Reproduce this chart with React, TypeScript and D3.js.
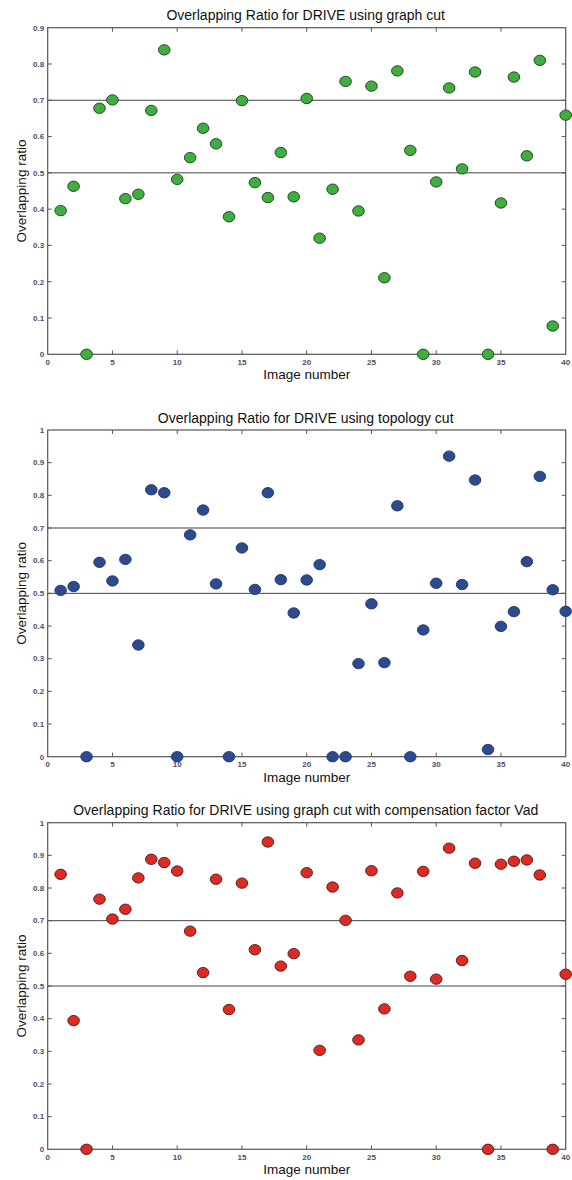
import React from "react";
import * as d3 from "d3";

const imageNumbers: number[] = Array.from({ length: 40 }, (_, i) => i + 1);

const graphCut: number[] = [
  0.396, 0.463, 0, 0.678, 0.701, 0.429, 0.441, 0.672, 0.839, 0.482,
  0.542, 0.623, 0.58, 0.379, 0.699, 0.473, 0.432, 0.556, 0.434, 0.705,
  0.32, 0.455, 0.752, 0.395, 0.739, 0.211, 0.781, 0.562, 0, 0.475,
  0.734, 0.511, 0.778, 0, 0.417, 0.764, 0.547, 0.81, 0.078, 0.659,
];

const topologyCut: number[] = [
  0.509, 0.521, 0, 0.595, 0.538, 0.604, 0.342, 0.817, 0.808, 0,
  0.679, 0.755, 0.529, 0, 0.639, 0.512, 0.808, 0.542, 0.44, 0.541,
  0.588, 0, 0, 0.285, 0.468, 0.288, 0.768, 0, 0.388, 0.531,
  0.92, 0.527, 0.847, 0.022, 0.399, 0.444, 0.597, 0.858, 0.511, 0.445,
];

const graphCutVad: number[] = [
  0.842, 0.394, 0, 0.766, 0.705, 0.735, 0.831, 0.888, 0.878, 0.852,
  0.668, 0.541, 0.827, 0.428, 0.815, 0.611, 0.941, 0.561, 0.599, 0.847,
  0.303, 0.803, 0.701, 0.335, 0.853, 0.43, 0.785, 0.53, 0.851, 0.521,
  0.922, 0.578, 0.876, 0, 0.873, 0.882, 0.886, 0.84, 0, 0.536,
];

const xTicks: number[] = [0, 5, 10, 15, 20, 25, 30, 35, 40];
const yTicks09: number[] = [0, 0.1, 0.2, 0.3, 0.4, 0.5, 0.6, 0.7, 0.8, 0.9];
const yTicks10: number[] = [0, 0.1, 0.2, 0.3, 0.4, 0.5, 0.6, 0.7, 0.8, 0.9, 1];
const refLines: number[] = [0.5, 0.7];

const titles: string[] = [
  "Overlapping Ratio for DRIVE using graph cut",
  "Overlapping Ratio for DRIVE using topology cut",
  "Overlapping Ratio for DRIVE using graph cut with compensation factor Vad",
];

const FONT = "'Liberation Sans', Arial, sans-serif";
const LEFT = 47.7;
const RIGHT = 565.7;

type PanelProps = {
  title: string;
  values: number[];
  yMax: number;
  yTicks: number[];
  top: number;
  bottom: number;
  fill: string;
  stroke: string;
};

function Panel({ title, values, yMax, yTicks, top, bottom, fill, stroke }: PanelProps) {
  const x = d3.scaleLinear().domain([0, 40]).range([LEFT, RIGHT]);
  const y = d3.scaleLinear().domain([0, yMax]).range([bottom, top]);
  const tickColor = "#4e4e66";
  const axisColor = "#555";
  const tl = 4;
  const fmt = (v: number) => (v === 0 ? "0" : v === 1 ? "1" : d3.format(".1f")(v));
  return (
    <g>
      <text
        x={(LEFT + RIGHT) / 2 - 1}
        y={top - 7.5}
        textAnchor="middle"
        fontFamily={FONT}
        fontSize={14}
        fill="#111"
      >
        {title}
      </text>
      {refLines.map((v) => (
        <line key={v} x1={LEFT} x2={RIGHT} y1={y(v)} y2={y(v)} stroke="#444" strokeWidth={1} />
      ))}
      {xTicks.slice(1, -1).map((t) => (
        <g key={"xt" + t}>
          <line x1={x(t)} x2={x(t)} y1={bottom} y2={bottom - tl} stroke={axisColor} strokeWidth={1} />
          <line x1={x(t)} x2={x(t)} y1={top} y2={top + tl} stroke={axisColor} strokeWidth={1} />
        </g>
      ))}
      {yTicks.slice(1, -1).map((t) => (
        <g key={"yt" + t}>
          <line x1={LEFT} x2={LEFT + tl} y1={y(t)} y2={y(t)} stroke={axisColor} strokeWidth={1} />
          <line x1={RIGHT} x2={RIGHT - tl} y1={y(t)} y2={y(t)} stroke={axisColor} strokeWidth={1} />
        </g>
      ))}
      <rect
        x={LEFT}
        y={top}
        width={RIGHT - LEFT}
        height={bottom - top}
        fill="none"
        stroke={axisColor}
        strokeWidth={1.2}
      />
      {xTicks.map((t) => (
        <text
          key={"xl" + t}
          x={x(t)}
          y={bottom + 10.5}
          textAnchor="middle"
          fontFamily={FONT}
          fontSize={8}
          fontWeight="bold"
          fill={tickColor}
        >
          {t}
        </text>
      ))}
      {yTicks.map((t) => (
        <text
          key={"yl" + t}
          x={LEFT - 3.5}
          y={y(t)}
          dy="0.35em"
          textAnchor="end"
          fontFamily={FONT}
          fontSize={8}
          fontWeight="bold"
          fill={tickColor}
        >
          {fmt(t)}
        </text>
      ))}
      <text
        x={(LEFT + RIGHT) / 2}
        y={bottom + 25}
        textAnchor="middle"
        fontFamily={FONT}
        fontSize={13.5}
        fill="#111"
      >
        Image number
      </text>
      <text
        transform={`translate(25.5,${(top + bottom) / 2}) rotate(-90)`}
        textAnchor="middle"
        fontFamily={FONT}
        fontSize={13.5}
        fill="#111"
      >
        Overlapping ratio
      </text>
      {values.map((v, i) => (
        <ellipse
          key={"p" + i}
          cx={x(imageNumbers[i])}
          cy={y(v)}
          rx={5.8}
          ry={5.2}
          fill={fill}
          stroke={stroke}
          strokeWidth={0.9}
        />
      ))}
    </g>
  );
}

export default function App() {
  return (
    <svg
      width={572}
      height={1180}
      style={{ position: "absolute", left: 0, top: 0, background: "#fff" }}
    >
      <rect width={572} height={1180} fill="#fff" />
      <Panel
        title={titles[0]}
        values={graphCut}
        yMax={0.9}
        yTicks={yTicks09}
        top={27.7}
        bottom={354.3}
        fill="#3fae3f"
        stroke="#1b3a1b"
      />
      <Panel
        title={titles[1]}
        values={topologyCut}
        yMax={1}
        yTicks={yTicks10}
        top={430}
        bottom={756.7}
        fill="#2c4a8e"
        stroke="#1f356a"
      />
      <Panel
        title={titles[2]}
        values={graphCutVad}
        yMax={1}
        yTicks={yTicks10}
        top={822.7}
        bottom={1149.3}
        fill="#dd2a22"
        stroke="#4a1a15"
      />
    </svg>
  );
}
